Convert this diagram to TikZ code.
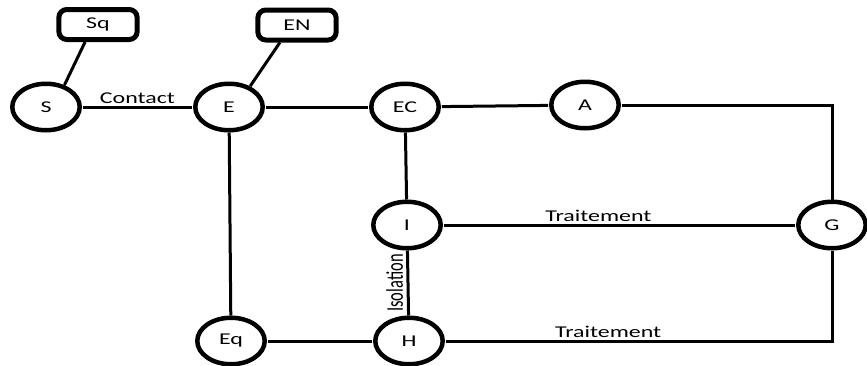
\documentclass[tikz,border=0pt]{standalone}
\usepackage{fontspec}
\setmainfont{Carlito}
\usetikzlibrary{positioning}
\tikzset{
    phase/.style={
        circle,
        draw,
        line width=4.5pt,
        minimum size=46.5pt,
        inner sep=0pt,
        xscale=1.45},
    tag/.style={
        rectangle,
        draw,
        rounded corners=8pt,
        line width=5pt,
        minimum width=54pt,
        minimum height=30pt,
        inner sep=0pt,
        xscale=1.45},
    link/.style={
        draw,
        line width=3pt},
    lbl/.style={
        inner sep=2pt,
        xscale=1.45}}

\begin{document}
\begin{tikzpicture}[x=1pt,y=-1pt,font=\fontsize{16.5}{19}\selectfont]
    \useasboundingbox (0,0) rectangle (867,365);

    % boxes on top
    \node[tag] (Sq) at (98,24.5) {Sq};
    \node[tag] (EN) at (297,25) {EN};

    % stages
    \node[phase] (S) at (46,107) {S};
    \node[phase] (E) at (229,107) {E};
    \node[phase] (EC) at (405,107) {EC};
    \node[phase] (A) at (585,105) {A};
    \node[phase] (I) at (407,225) {I};
    \node[phase] (G) at (832,225) {G};
    \node[phase] (Eq) at (231,341) {Eq};
    \node[phase] (H) at (409,341) {H};

    \draw[link] (Sq.243) -- (S.60);
    \draw[link] (EN.236) -- (E.55);
    \draw[link] (S) -- node[lbl,above] {Contact} (E);
    \draw[link] (E) -- (EC);
    \draw[link] (EC) -- (A);
    \draw[link] (A) -| (G);
    \draw[link] (EC) -- (I);
    \draw[link] (I) -- node[lbl,above,pos=0.44] {Traitement} (G);
    \draw[link] (I) -- node[lbl,midway,anchor=south,rotate=90] {Isolation} (H);
    \draw[link] (E) -- (Eq);
    \draw[link] (Eq) -- (H);
    \draw[link] (H) -| node[lbl,above,pos=0.21] {Traitement} (G);
\end{tikzpicture}
\end{document}
